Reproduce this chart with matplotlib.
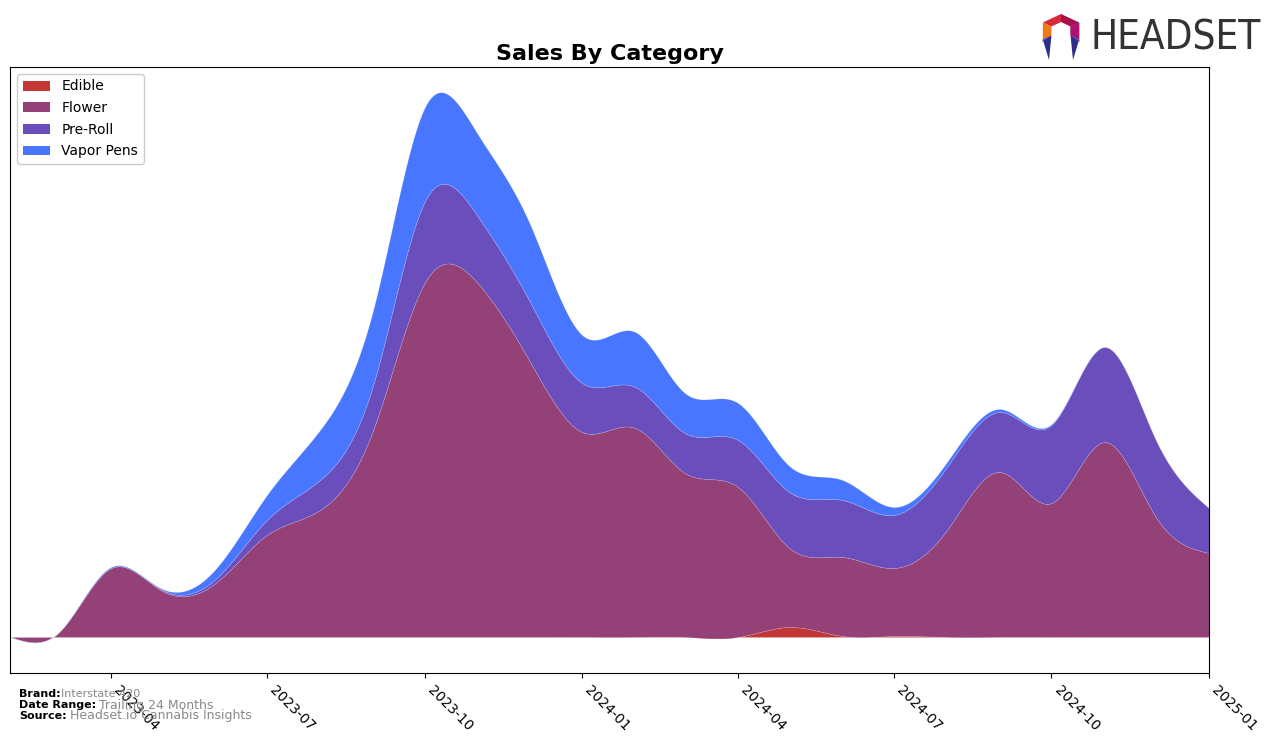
import matplotlib
matplotlib.use("Agg")
import matplotlib.pyplot as plt
import matplotlib.dates as mdates
from matplotlib.patches import Patch, Polygon
import numpy as np
import pandas as pd

# monthly values (arbitrary units)
months = pd.date_range("2023-02-01", periods=24, freq="MS")
categories = ["Edible", "Flower", "Pre-Roll", "Vapor Pens"]
edible = [0, 0, 0, 0, 0, 0, 0, 0, 0, 0, 0, 0, 0, 0, 0, 10, 1, 1, 0, 0, 0, 0, 0, 0]
flower = [0, 4, 69, 46, 54, 102, 127, 207, 354, 354, 277, 205,
          209, 164, 150, 79, 79, 68, 107, 165, 134, 195, 120, 84]
preroll = [0, 0, 0, 1, 4, 15, 30, 45, 81, 67, 60, 49,
           41, 40, 47, 56, 57, 53, 63, 60, 78, 95, 77, 45]
vapor = [0, 0, 1, 1, 10, 25, 50, 75, 94, 82, 78, 48,
         55, 40, 37, 26, 20, 8, 5, 3, 1, 0, 0, 0]
colors = ["#c23636", "#944178", "#6a4ebc", "#4876ff"]
tick_labels = ["2023-04", "2023-07", "2023-10", "2024-01",
               "2024-04", "2024-07", "2024-10", "2025-01"]


def natural_spline(x, y, xs):
    """Natürlicher kubischer Spline, nur mit numpy."""
    x = np.asarray(x, float)
    y = np.asarray(y, float)
    n = len(x)
    h = np.diff(x)
    A = np.zeros((n, n))
    b = np.zeros(n)
    A[0, 0] = 1
    A[-1, -1] = 1
    for i in range(1, n - 1):
        A[i, i - 1] = h[i - 1]
        A[i, i] = 2 * (h[i - 1] + h[i])
        A[i, i + 1] = h[i]
        b[i] = 3 * ((y[i + 1] - y[i]) / h[i] - (y[i] - y[i - 1]) / h[i - 1])
    c = np.linalg.solve(A, b)
    idx = np.clip(np.searchsorted(x, xs) - 1, 0, n - 2)
    dx = xs - x[idx]
    hi = h[idx]
    bb = (y[idx + 1] - y[idx]) / hi - hi * (2 * c[idx] + c[idx + 1]) / 3
    dd = (c[idx + 1] - c[idx]) / (3 * hi)
    return y[idx] + bb * dx + c[idx] * dx ** 2 + dd * dx ** 3


xnum = mdates.date2num(months)
xs = np.linspace(xnum[0], xnum[-1], 1200)
series = [natural_spline(xnum, s, xs) for s in (edible, flower, preroll, vapor)]

fig = plt.figure(figsize=(12.76, 7.43), dpi=100)
ax = fig.add_axes([10 / 1276, 1 - 673 / 743, 1199 / 1276, 606 / 743])

ax.stackplot(xs, *series, colors=colors, labels=categories,
             edgecolor=(1, 1, 1, 0.18), linewidth=0.5)

ax.set_xlim(xnum[0], xnum[-1])
ax.set_ylim(-36, 570)
ax.set_yticks([])
ticks = mdates.date2num(pd.to_datetime([t + "-01" for t in tick_labels]))
ax.set_xticks(ticks)
ax.set_xticklabels(tick_labels, rotation=-45, ha="left", va="top", fontsize=10)
ax.set_title("Sales By Category", fontsize=16, fontweight="bold", pad=5)

handles = [Patch(facecolor=c, label=l) for c, l in zip(colors, categories)]
ax.legend(handles=handles, loc="upper left", fontsize=10, framealpha=1,
          handlelength=2, borderaxespad=0.5, labelspacing=0.55)

# footer
fig.text(19 / 1276, 1 - 694 / 743, "Brand:", fontsize=8, fontweight="bold", va="center")
fig.text(61 / 1276, 1 - 694 / 743, "Interstate 420", fontsize=8, color="#888888", va="center")
fig.text(19 / 1276, 1 - 705 / 743, "Date Range:", fontsize=8, fontweight="bold", va="center")
fig.text(99 / 1276, 1 - 705 / 743, "Trailing 24 Months", fontsize=9, color="#888888", va="center")
fig.text(19 / 1276, 1 - 716 / 743, "Source:", fontsize=8, fontweight="bold", va="center")
fig.text(70 / 1276, 1 - 716 / 743, "Headset.io Cannabis Insights", fontsize=9, color="#888888", va="center")

# logo: hexagon ring, open at the bottom
lax = fig.add_axes([1036 / 1276, 1 - 60 / 743, 50 / 1276, 48 / 743])
lax.set_xlim(0, 50)
lax.set_ylim(0, 48)
lax.axis("off")
cx, cy = 25, 29
angles = np.deg2rad([90, 30, -30, -90, -150, 150])
outer = [(cx + 21 * np.cos(a), cy + 17 * np.sin(a)) for a in angles]
inner = [(cx + 11 * np.cos(a), cy + 9 * np.sin(a)) for a in angles]
seg_colors = ["#a8104a", "#b0106e", None, None, None, "#d42a3a"]
for i, sc in enumerate(seg_colors):
    if sc is None:
        continue
    j = (i + 1) % 6
    lax.add_patch(Polygon([outer[i], outer[j], inner[j], inner[i]], closed=True,
                          facecolor=sc, edgecolor="none"))
# side pieces
lax.add_patch(Polygon([outer[5], inner[5], inner[4], outer[4]], facecolor="#f07a1a", edgecolor="none"))
lax.add_patch(Polygon([outer[1], inner[1], inner[2], outer[2]], facecolor="#b0106e", edgecolor="none"))
# bottom arrows
lax.add_patch(Polygon([outer[4], inner[4], (cx - 12, 0)], facecolor="#2e2e8a", edgecolor="none"))
lax.add_patch(Polygon([outer[4], (cx - 19, 18), inner[4]], facecolor="#5a5ad0", edgecolor="none"))
lax.add_patch(Polygon([outer[2], inner[2], (cx + 12, 0)], facecolor="#2e2e8a", edgecolor="none"))
lax.add_patch(Polygon([outer[2], (cx + 19, 18), inner[2]], facecolor="#5a5ad0", edgecolor="none"))
fig.text(1091 / 1276, 1 - 38 / 743, "HEADSET", fontsize=29, color="#333333",
         va="center", ha="left", fontfamily="DejaVu Sans", fontstretch="condensed")

fig.savefig("out.png", dpi=100)
